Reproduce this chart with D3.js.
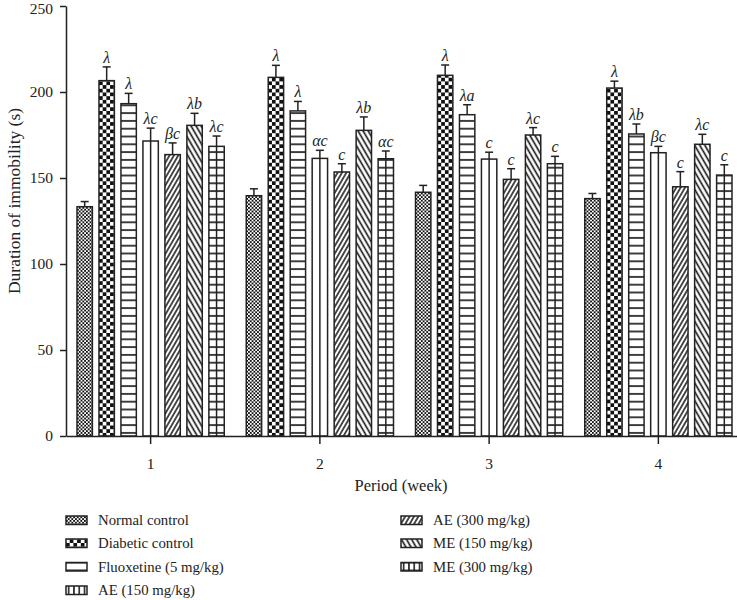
<!DOCTYPE html>
<html>
<head>
<meta charset="utf-8">
<script src="https://cdn.jsdelivr.net/npm/d3@7"></script>
<style>
  html, body { margin: 0; padding: 0; background: #fff; }
  svg { display: block; }
  text { font-family: "Liberation Serif", "DejaVu Serif", serif; fill: #222; }
</style>
</head>
<body>
<svg id="chart" width="737" height="600"></svg>
<script>
// ---- Data ----
const weeks = ["1", "2", "3", "4"];
const groups = ["Normal control", "Diabetic control", "Fluoxetine (5 mg/kg)", "AE (150 mg/kg)", "AE (300 mg/kg)", "ME (150 mg/kg)", "ME (300 mg/kg)"];
const normalControl   = [133.3, 139.7, 141.7, 138.0];
const diabeticControl = [206.6, 208.5, 209.7, 202.3];
const fluoxetine      = [193.2, 189.0, 186.8, 175.6];
const ae150           = [171.5, 161.4, 161.0, 164.7];
const ae300           = [163.6, 153.5, 149.2, 144.9];
const me150           = [180.6, 177.7, 175.0, 169.6];
const me300           = [168.4, 161.2, 158.3, 151.7];
const errNormal   = [3, 4, 4, 3];
const errDiabetic = [8, 7, 6, 4];
const errFluox    = [6, 5.5, 5.8, 5.8];
const errAe150    = [7.5, 4.7, 4, 3.7];
const errAe300    = [6.8, 4.8, 6.2, 8.8];
const errMe150    = [7, 7.8, 4.3, 5.8];
const errMe300    = [6, 4.5, 4.3, 6];
const lettersNormal   = ["", "", "", ""];
const lettersDiabetic = ["λ", "λ", "λ", "λ"];
const lettersFluox    = ["λ", "λ", "λa", "λb"];
const lettersAe150    = ["λc", "αc", "c", "βc"];
const lettersAe300    = ["βc", "c", "c", "c"];
const lettersMe150    = ["λb", "λb", "λc", "λc"];
const lettersMe300    = ["λc", "αc", "c", "c"];
const yTicks = [0, 50, 100, 150, 200, 250];

const seriesValues = [normalControl, diabeticControl, fluoxetine, ae150, ae300, me150, me300];
const seriesErr = [errNormal, errDiabetic, errFluox, errAe150, errAe300, errMe150, errMe300];
const seriesLetters = [lettersNormal, lettersDiabetic, lettersFluox, lettersAe150, lettersAe300, lettersMe150, lettersMe300];

const rows = [];
weeks.forEach((w, wi) => {
  groups.forEach((g, gi) => {
    rows.push({ week: w, group: g, gi, value: seriesValues[gi][wi], err: seriesErr[gi][wi], letter: seriesLetters[gi][wi] });
  });
});

// ---- Setup ----
const svg = d3.select("#chart");
const ink = "#222";
const mLeft = 66, mTop = 6, mBottom = 436, mRight = 743;

const defs = svg.append("defs");
function checker(id, s) {
  const p = defs.append("pattern").attr("id", id).attr("patternUnits", "userSpaceOnUse")
    .attr("width", 2 * s).attr("height", 2 * s);
  p.append("rect").attr("width", 2 * s).attr("height", 2 * s).attr("fill", "#fff");
  p.append("rect").attr("width", s).attr("height", s).attr("fill", "#111");
  p.append("rect").attr("x", s).attr("y", s).attr("width", s).attr("height", s).attr("fill", "#111");
}
function lines(id, spacing, angle, width, horizontal) {
  const p = defs.append("pattern").attr("id", id).attr("patternUnits", "userSpaceOnUse")
    .attr("width", spacing).attr("height", spacing);
  if (angle) p.attr("patternTransform", `rotate(${angle})`);
  p.append("rect").attr("width", spacing).attr("height", spacing).attr("fill", "#fff");
  if (horizontal) {
    p.append("line").attr("x1", 0).attr("x2", spacing).attr("y1", spacing / 2).attr("y2", spacing / 2)
      .attr("stroke", "#111").attr("stroke-width", width);
  } else {
    p.append("line").attr("y1", 0).attr("y2", spacing).attr("x1", spacing / 2).attr("x2", spacing / 2)
      .attr("stroke", "#111").attr("stroke-width", width);
  }
}
function grid(id, sx, sy, width) {
  const p = defs.append("pattern").attr("id", id).attr("patternUnits", "userSpaceOnUse")
    .attr("width", sx).attr("height", sy);
  p.append("rect").attr("width", sx).attr("height", sy).attr("fill", "#fff");
  p.append("line").attr("x1", 0).attr("x2", sx).attr("y1", sy / 2).attr("y2", sy / 2).attr("stroke", "#111").attr("stroke-width", width);
  p.append("line").attr("y1", 0).attr("y2", sy).attr("x1", sx / 2).attr("x2", sx / 2).attr("stroke", "#111").attr("stroke-width", width);
}
checker("pNC", 1.8);
checker("pDC", 3.7);
lines("pFL", 7.8, 0, 1.6, true);
lines("pAE3", 3.8, 30, 1.5, false);
lines("pME1", 4.4, -30, 1.6, false);
lines("pME3", 7.8, 0, 1.6, true);
lines("pLegV", 5.3, 0, 1.5, false);
grid("pLegG", 5.3, 8, 1.5);
const fills = ["url(#pNC)", "url(#pDC)", "url(#pFL)", "#fff", "url(#pAE3)", "url(#pME1)", "url(#pME3)"];
const legendFills = ["url(#pNC)", "url(#pDC)", "url(#pFL)", "url(#pLegV)", "url(#pAE3)", "url(#pME1)", "url(#pLegG)"];

// ---- Scales ----
const y = d3.scaleLinear().domain([0, 250]).range([mBottom, mTop]);
const x0 = d3.scaleBand().domain(weeks).range([mLeft, mRight]).paddingInner(0).paddingOuter(0);
const x1 = d3.scaleBand().domain(groups).range([11, x0.bandwidth() - 11]).paddingInner(0.3).paddingOuter(0);

// ---- Bars ----
const bars = svg.append("g").selectAll("g").data(rows).join("g")
  .attr("transform", d => `translate(${x0(d.week) + x1(d.group)},0)`);

bars.append("rect")
  .attr("x", 0).attr("width", x1.bandwidth())
  .attr("y", d => y(d.value)).attr("height", d => y(0) - y(d.value))
  .attr("fill", d => fills[d.gi]).attr("stroke", ink).attr("stroke-width", 1.5);

// Centre vertical line for AE(150) and ME(300)
bars.filter(d => d.gi === 3 || d.gi === 6).append("line")
  .attr("x1", x1.bandwidth() / 2).attr("x2", x1.bandwidth() / 2)
  .attr("y1", d => y(d.value)).attr("y2", y(0))
  .attr("stroke", ink).attr("stroke-width", 1.5);

// Error bars
bars.append("line")
  .attr("x1", x1.bandwidth() / 2).attr("x2", x1.bandwidth() / 2)
  .attr("y1", d => y(d.value)).attr("y2", d => y(d.value + d.err))
  .attr("stroke", ink).attr("stroke-width", 1.5);
bars.append("line")
  .attr("x1", x1.bandwidth() / 2 - 4).attr("x2", x1.bandwidth() / 2 + 4)
  .attr("y1", d => y(d.value + d.err)).attr("y2", d => y(d.value + d.err))
  .attr("stroke", ink).attr("stroke-width", 1.5);

// Significance letters
bars.append("text")
  .attr("x", x1.bandwidth() / 2).attr("y", d => y(d.value + d.err) - 4)
  .attr("text-anchor", "middle").attr("font-style", "italic").attr("font-size", 16)
  .text(d => d.letter);

// ---- Axes ----
const yAxis = svg.append("g").attr("transform", `translate(${mLeft},0)`)
  .call(d3.axisLeft(y).tickValues(yTicks).tickSize(6).tickSizeOuter(0).tickPadding(7));
const xAxis = svg.append("g").attr("transform", `translate(0,${mBottom})`)
  .call(d3.axisBottom(x0).tickSize(8).tickSizeOuter(0).tickPadding(14));
[yAxis, xAxis].forEach(a => {
  a.selectAll("path, line").attr("stroke", ink).attr("stroke-width", 1.5);
  a.selectAll("text").attr("font-family", "Liberation Serif, DejaVu Serif, serif").attr("font-size", 15.5).attr("fill", ink);
});
// keep the top tick label inside the picture
yAxis.selectAll(".tick").filter(d => d === 250).select("text").attr("y", 3);

svg.append("text")
  .attr("transform", `translate(20,201) rotate(-90)`)
  .attr("text-anchor", "middle").attr("font-size", 17.5)
  .text("Duration of immobility (s)");

svg.append("text")
  .attr("x", 401).attr("y", 491).attr("text-anchor", "middle").attr("font-size", 16.5)
  .text("Period (week)");

// ---- Legend ----
const legendPos = [
  [66, 520], [66, 543], [66, 566.5], [66, 590],
  [401, 520], [401, 543], [401, 566.5]
];
const legend = svg.append("g").selectAll("g").data(groups).join("g")
  .attr("transform", (d, i) => `translate(${legendPos[i][0]},${legendPos[i][1]})`);
legend.append("rect").attr("x", 0).attr("y", -4).attr("width", 21).attr("height", 8.5)
  .attr("fill", (d, i) => legendFills[i]).attr("stroke", ink).attr("stroke-width", 1.5);
legend.append("text").attr("x", 32).attr("y", 5).attr("font-size", 14.8).text(d => d);
</script>
</body>
</html>
